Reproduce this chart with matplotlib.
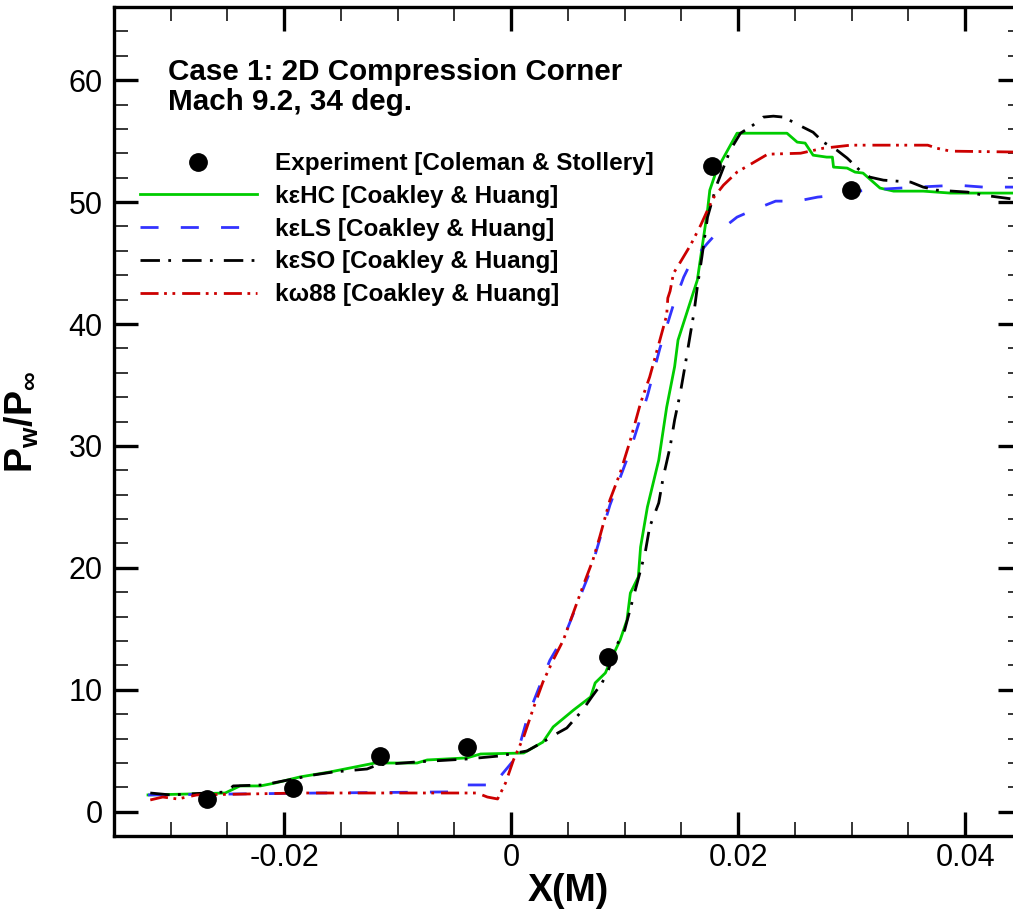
import numpy as np
import matplotlib.pyplot as plt
from matplotlib.ticker import MultipleLocator

plt.rcParams['font.family'] = ['Liberation Sans', 'DejaVu Sans']
plt.rcParams['mathtext.fontset'] = 'custom'
plt.rcParams['mathtext.rm'] = 'Liberation Sans'
plt.rcParams['mathtext.bf'] = 'Liberation Sans:bold'

# experiment (Coleman & Stollery)
exp_x = [-0.0268, -0.0192, -0.0116, -0.0039, 0.0085, 0.0177, 0.0299]
exp_y = [1.0, 1.9, 4.6, 5.3, 12.7, 53.0, 51.0]

# k-eps HC
hc_x = [-0.0320, -0.0283, -0.0252, -0.0239, -0.0221, -0.0208, -0.0186, -0.0160,
        -0.0120, -0.0083, -0.0074, -0.0039, -0.0027, 0.0011, 0.0028, 0.0037,
        0.0055, 0.0070, 0.0074, 0.0083, 0.0089, 0.0096, 0.0102, 0.0105, 0.0112,
        0.0114, 0.0120, 0.0130, 0.0137, 0.0144, 0.0147, 0.0164, 0.0173, 0.0175,
        0.0181, 0.0199, 0.0243, 0.0252, 0.0259, 0.0266, 0.0278, 0.0283, 0.0284,
        0.0296, 0.0303, 0.0310, 0.0325, 0.0337, 0.0363, 0.0387, 0.0450]
hc_y = [1.37, 1.45, 1.53, 2.11, 2.11, 2.35, 2.85, 3.25,
        3.99, 3.99, 4.24, 4.41, 4.73, 4.81, 5.71, 6.95,
        8.34, 9.41, 10.56, 11.38, 12.69, 14.08, 15.72, 17.93, 19.25,
        21.70, 24.98, 28.84, 33.18, 36.50, 38.68, 43.60, 49.34, 50.98,
        52.62, 55.65, 55.65, 54.92, 54.84, 53.85, 53.69, 53.69, 52.87,
        52.79, 52.46, 52.38, 51.15, 50.90, 50.90, 50.74, 50.74]

# k-eps LS
ls_x = [-0.0320, -0.0168, -0.0054, -0.0045, -0.0041, -0.0012, -0.0010, 0.0001,
        0.0008, 0.0015, 0.0034, 0.0048, 0.0070, 0.0087, 0.0105, 0.0120, 0.0131,
        0.0143, 0.0152, 0.0158, 0.0173, 0.0181, 0.0199, 0.0213, 0.0233, 0.0252,
        0.0270, 0.0287, 0.0305, 0.0328, 0.0358, 0.0393, 0.0416, 0.0450]
ls_y = [1.37, 1.53, 1.62, 1.78, 2.19, 2.19, 2.85, 4.08,
        5.63, 7.93, 12.4, 14.65, 19.82, 25.15, 29.66, 34.1, 38.0,
        41.6, 43.85, 44.99, 46.63, 47.45, 48.77, 49.34, 50.08, 50.08,
        50.41, 50.57, 50.90, 51.07, 51.23, 51.39, 51.23, 51.23]

# k-eps SO
so_x = [-0.0318, -0.0300, -0.0250, -0.0245, -0.0219, -0.0210, -0.0174, -0.0157,
        -0.0127, -0.0118, -0.0083, -0.0039, -0.0010, 0.0014, 0.0028, 0.0041,
        0.0049, 0.0063, 0.0071, 0.0080, 0.0085, 0.0094, 0.0100, 0.0107, 0.0111,
        0.0118, 0.0122, 0.0130, 0.0134, 0.0140, 0.0144, 0.0149, 0.0153, 0.0158,
        0.0161, 0.0164, 0.0168, 0.0173, 0.0181, 0.0193, 0.0202, 0.0213, 0.0222,
        0.0231, 0.0240, 0.0257, 0.0266, 0.0275, 0.0287, 0.0296, 0.0307, 0.0316,
        0.0328, 0.0352, 0.0363, 0.0375, 0.0402, 0.0416, 0.0442, 0.0450]
so_y = [1.53, 1.37, 1.62, 2.11, 2.19, 2.35, 3.01, 3.25,
        3.50, 3.83, 4.08, 4.32, 4.57, 4.98, 5.71, 6.45,
        6.86, 8.34, 9.41, 10.56, 11.46, 13.83, 14.90, 17.36, 18.76,
        21.21, 23.35, 25.32, 27.45, 29.91, 32.13, 34.34, 36.47, 39.26,
        40.90, 43.03, 45.49, 48.77, 51.39, 54.26, 55.65, 56.31, 56.97,
        57.05, 56.97, 56.15, 55.73, 54.92, 54.26, 53.61, 52.62, 52.05,
        51.80, 51.64, 51.23, 50.98, 50.82, 50.57, 50.25, 50.16]

# k-omega 88
kw_x = [-0.0318, -0.0307, -0.0294, -0.0277, -0.0186, -0.0030, -0.0021, -0.0012,
        -0.0008, -0.0005, 0.0002, 0.0011, 0.0019, 0.0028, 0.0037, 0.0046, 0.0055,
        0.0063, 0.0072, 0.0078, 0.0087, 0.0096, 0.0105, 0.0114, 0.0122, 0.0131,
        0.0137, 0.0138, 0.0140, 0.0143, 0.0149, 0.0158, 0.0167, 0.0173, 0.0178,
        0.0187, 0.0199, 0.0211, 0.0226, 0.0255, 0.0275, 0.0299, 0.0328, 0.0367,
        0.0375, 0.0387, 0.0450]
kw_y = [0.96, 1.20, 1.04, 1.37, 1.53, 1.53, 1.20, 1.04,
        1.78, 2.35, 4.24, 6.13, 8.34, 10.64, 12.44, 14.08, 16.38,
        18.43, 20.64, 22.53, 25.57, 27.78, 30.48, 33.52, 35.65, 38.68,
        40.73, 42.13, 42.70, 44.16, 45.07, 46.47, 48.11, 49.34, 50.33,
        51.39, 52.46, 53.11, 53.93, 54.01, 54.42, 54.67, 54.67, 54.67,
        54.42, 54.18, 54.10]

fig = plt.figure(figsize=(10.13, 9.15), dpi=100)
ax = fig.add_axes([0.1125, 0.0863, 0.8963, 0.906])

lw = 2.0
ax.plot(exp_x, exp_y, 'o', color='black', markersize=12.5, zorder=5,
        label='Experiment [Coleman & Stollery]')
ax.plot(hc_x, hc_y, '-', color='#00cc00', lw=lw, label='kεHC [Coakley & Huang]')
ax.plot(ls_x, ls_y, color='#3333ff', lw=lw, dashes=(6.5, 8),
        label='kεLS [Coakley & Huang]')
ax.plot(so_x, so_y, color='black', lw=lw, dashes=(7, 3, 1, 4),
        label='kεSO [Coakley & Huang]')
ax.plot(kw_x, kw_y, color='#cc0000', lw=lw, dashes=(6.5, 2, 1, 2, 1, 2.5),
        label='kω88 [Coakley & Huang]')

ax.set_xlim(-0.035, 0.045)
ax.set_ylim(-2, 66)
ax.xaxis.set_major_locator(MultipleLocator(0.02))
ax.xaxis.set_minor_locator(MultipleLocator(0.005))
ax.yaxis.set_major_locator(MultipleLocator(10))
ax.yaxis.set_minor_locator(MultipleLocator(2))
ax.set_xticks([-0.02, 0, 0.02, 0.04])
ax.set_xticklabels(['-0.02', '0', '0.02', '0.04'])

ax.tick_params(which='both', direction='in', top=True, right=True)
ax.tick_params(which='major', length=17, width=2.4, labelsize=22)
ax.tick_params(which='minor', length=10, width=1.1)
ax.tick_params(axis='x', which='major', pad=5)
ax.tick_params(axis='y', which='major', pad=8)
for sp in ax.spines.values():
    sp.set_linewidth(2.4)

ax.set_xlabel('X(M)', fontsize=27, fontweight='bold', labelpad=0)
ax.set_ylabel(r'$\mathbf{P_w/P_\infty}$', fontsize=27)
ax.yaxis.set_label_coords(-0.08, 0.5)

ax.text(0.0595, 0.938, 'Case 1: 2D Compression Corner\nMach 9.2, 34 deg.',
        transform=ax.transAxes, fontsize=21.3, fontweight='bold',
        va='top', ha='left', linespacing=1.05)

ax.legend(loc='upper left', bbox_to_anchor=(0.0286, 0.825), frameon=False,
          borderpad=0, borderaxespad=0, handlelength=4.8, handletextpad=0.74,
          labelspacing=0.4, numpoints=1, prop={'size': 17.5, 'weight': 'bold'})

fig.savefig('out.png', dpi=100)
